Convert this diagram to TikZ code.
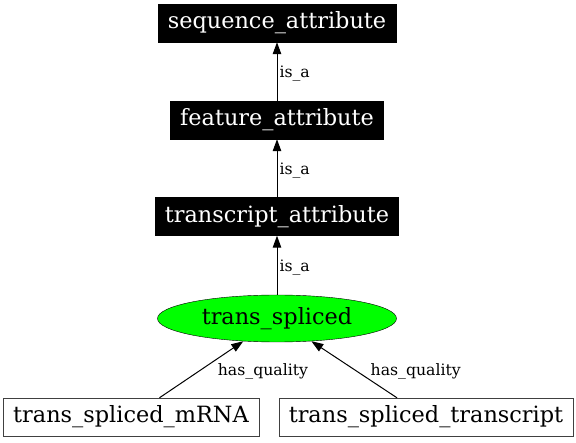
\documentclass[tikz,border=0pt]{standalone}
\usepackage{fontspec}
\setmainfont{DejaVu Serif}
\usetikzlibrary{arrows.meta,shapes.geometric,positioning}

\begin{document}
\begin{tikzpicture}[
    x=1pt, y=-1pt,
    term/.style={draw=black, fill=black, text=white, minimum height=38pt, inner xsep=9.5pt, font=\fontsize{22.4}{26}\selectfont},
    leaf/.style={draw=black!75, fill=white, minimum height=38pt, inner xsep=10pt, font=\fontsize{22.4}{26}\selectfont},
    focus/.style={draw=black, fill=green, ellipse, minimum width=239pt, minimum height=47pt, inner sep=0pt, font=\fontsize{22.4}{26}\selectfont},
    arr/.style={-{Triangle[length=12pt, width=8.5pt]}, line width=1pt},
    lbl/.style={font=\fontsize{15.7}{18}\selectfont, inner sep=2pt, yshift=-2pt}
]
\useasboundingbox (0,0) rectangle (576,443);
\node[term] (seqattr) at (277,23) {sequence\_attribute};
\node[term] (featattr) at (277,120) {feature\_attribute};
\node[term] (txattr) at (277,216.5) {transcript\_attribute};
\node[focus] (tspliced) at (277,318.5) {trans\_spliced};
\node[leaf] (mrna) at (131,417) {trans\_spliced\_mRNA};
\node[leaf] (tscript) at (426,417) {trans\_spliced\_transcript};

\draw[arr] (featattr) -- node[lbl, right] {is\_a} (seqattr);
\draw[arr] (txattr) -- node[lbl, right] {is\_a} (featattr);
\draw[arr] (tspliced) -- node[lbl, right] {is\_a} (txattr);
\draw[arr] (mrna) -- node[lbl, right, xshift=14pt] {has\_quality} (tspliced);
\draw[arr] (tscript) -- node[lbl, right, xshift=14pt] {has\_quality} (tspliced);
\end{tikzpicture}
\end{document}
